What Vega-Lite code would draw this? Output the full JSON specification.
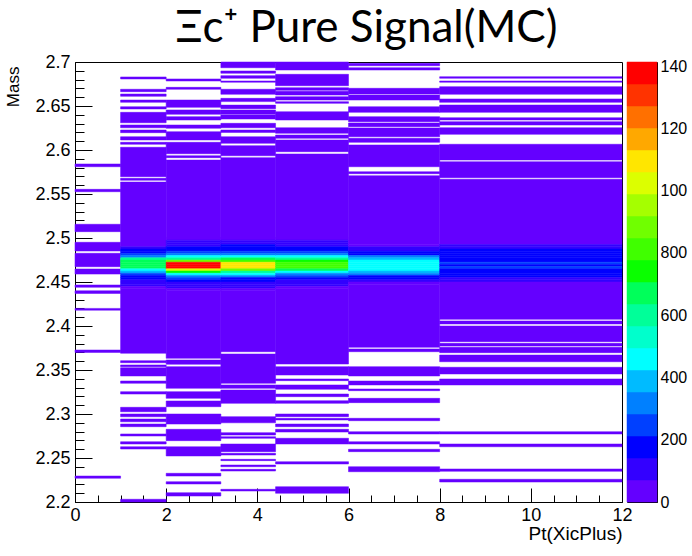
{
"$schema": "https://vega.github.io/schema/vega-lite/v6.json",
"padding": {"left": 3, "top": 6, "right": 0, "bottom": 0},
"background": "#ffffff",
"title": {"text": "Ξc⁺ Pure Signal(MC)", "font": "Lato", "fontSize": 44, "fontWeight": "normal", "color": "#000000", "anchor": "middle", "dx": 21, "offset": 2},
"config": {
  "view": {"stroke": "#000000", "strokeWidth": 1},
  "style": {"guide-label": {"ellipsis": "\u200b"}},
  "axis": {"grid": false, "domainColor": "#000000", "tickColor": "#000000", "labelColor": "#000000", "labelFont": "Liberation Sans", "titleFont": "Liberation Sans", "titleColor": "#000000", "titleFontWeight": "normal"}
},
"bounds": "flush",
"spacing": 5,
"datasets": {
"h": [
{"x":0,"x2":1,"m":2.581,"m2":2.5841,"n":15},
{"x":0,"x2":1,"m":2.5526,"m2":2.5553,"n":15},
{"x":0,"x2":1,"m":2.5072,"m2":2.5156,"n":20},
{"x":0,"x2":1,"m":2.4852,"m2":2.4951,"n":25},
{"x":0,"x2":1,"m":2.4674,"m2":2.4826,"n":30},
{"x":0,"x2":1,"m":2.459,"m2":2.4648,"n":30},
{"x":0,"x2":1,"m":2.444,"m2":2.4466,"n":20},
{"x":0,"x2":1,"m":2.437,"m2":2.44,"n":20},
{"x":0,"x2":1,"m":2.418,"m2":2.42,"n":15},
{"x":0,"x2":1,"m":2.37,"m2":2.3727,"n":15},
{"x":0,"x2":1,"m":2.227,"m2":2.2295,"n":10},

{"x":1,"x2":2,"m":2.6807,"m2":2.683,"n":10},
{"x":1,"x2":2,"m":2.6663,"m2":2.669,"n":10},
{"x":1,"x2":2,"m":2.661,"m2":2.6636,"n":10},
{"x":1,"x2":2,"m":2.6542,"m2":2.6568,"n":10},
{"x":1,"x2":2,"m":2.6466,"m2":2.6492,"n":10},
{"x":1,"x2":2,"m":2.631,"m2":2.6428,"n":15},
{"x":1,"x2":2,"m":2.6253,"m2":2.6284,"n":10},
{"x":1,"x2":2,"m":2.6197,"m2":2.6227,"n":10},
{"x":1,"x2":2,"m":2.6114,"m2":2.6151,"n":10},
{"x":1,"x2":2,"m":2.6065,"m2":2.6087,"n":10},
{"x":1,"x2":2,"m":2.5697,"m2":2.6031,"n":20},
{"x":1,"x2":2,"m":2.5656,"m2":2.5678,"n":20},
{"x":1,"x2":2,"m":2.49,"m2":2.5636,"n":35},
{"x":1,"x2":2,"m":2.4875,"m2":2.49,"n":100},
{"x":1,"x2":2,"m":2.485,"m2":2.4875,"n":170},
{"x":1,"x2":2,"m":2.4825,"m2":2.485,"n":200},
{"x":1,"x2":2,"m":2.48,"m2":2.4825,"n":260},
{"x":1,"x2":2,"m":2.4775,"m2":2.48,"n":340},
{"x":1,"x2":2,"m":2.475,"m2":2.4775,"n":600},
{"x":1,"x2":2,"m":2.4725,"m2":2.475,"n":680},
{"x":1,"x2":2,"m":2.47,"m2":2.4725,"n":700},
{"x":1,"x2":2,"m":2.4675,"m2":2.47,"n":690},
{"x":1,"x2":2,"m":2.465,"m2":2.4675,"n":660},
{"x":1,"x2":2,"m":2.4625,"m2":2.465,"n":460},
{"x":1,"x2":2,"m":2.46,"m2":2.4625,"n":380},
{"x":1,"x2":2,"m":2.4575,"m2":2.46,"n":250},
{"x":1,"x2":2,"m":2.455,"m2":2.4575,"n":190},
{"x":1,"x2":2,"m":2.4525,"m2":2.455,"n":160},
{"x":1,"x2":2,"m":2.45,"m2":2.4525,"n":120},
{"x":1,"x2":2,"m":2.4475,"m2":2.45,"n":90},
{"x":1,"x2":2,"m":2.445,"m2":2.4475,"n":75},
{"x":1,"x2":2,"m":2.4425,"m2":2.445,"n":55},
{"x":1,"x2":2,"m":2.369,"m2":2.4425,"n":35},
{"x":1,"x2":2,"m":2.3583,"m2":2.3606,"n":10},
{"x":1,"x2":2,"m":2.3538,"m2":2.3557,"n":10},
{"x":1,"x2":2,"m":2.3432,"m2":2.3526,"n":15},
{"x":1,"x2":2,"m":2.3349,"m2":2.3375,"n":10},
{"x":1,"x2":2,"m":2.3227,"m2":2.3254,"n":10},
{"x":1,"x2":2,"m":2.3026,"m2":2.3076,"n":10},
{"x":1,"x2":2,"m":2.2969,"m2":2.3,"n":10},
{"x":1,"x2":2,"m":2.2912,"m2":2.2943,"n":10},
{"x":1,"x2":2,"m":2.2856,"m2":2.2886,"n":10},
{"x":1,"x2":2,"m":2.275,"m2":2.2773,"n":10},
{"x":1,"x2":2,"m":2.2659,"m2":2.2685,"n":10},
{"x":1,"x2":2,"m":2.2602,"m2":2.2628,"n":10},
{"x":1,"x2":2,"m":2.2,"m2":2.2031,"n":10},

{"x":2,"x2":3.2,"m":2.6784,"m2":2.6807,"n":10},
{"x":2,"x2":3.2,"m":2.669,"m2":2.6712,"n":10},
{"x":2,"x2":3.2,"m":2.6485,"m2":2.6568,"n":15},
{"x":2,"x2":3.2,"m":2.6406,"m2":2.6455,"n":15},
{"x":2,"x2":3.2,"m":2.6341,"m2":2.6379,"n":15},
{"x":2,"x2":3.2,"m":2.6247,"m2":2.6284,"n":15},
{"x":2,"x2":3.2,"m":2.6114,"m2":2.6208,"n":15},
{"x":2,"x2":3.2,"m":2.5958,"m2":2.6087,"n":20},
{"x":2,"x2":3.2,"m":2.5913,"m2":2.5935,"n":20},
{"x":2,"x2":3.2,"m":2.5,"m2":2.5886,"n":35},
{"x":2,"x2":3.2,"m":2.4975,"m2":2.5,"n":60},
{"x":2,"x2":3.2,"m":2.495,"m2":2.4975,"n":80},
{"x":2,"x2":3.2,"m":2.4925,"m2":2.495,"n":100},
{"x":2,"x2":3.2,"m":2.49,"m2":2.4925,"n":120},
{"x":2,"x2":3.2,"m":2.4875,"m2":2.49,"n":160},
{"x":2,"x2":3.2,"m":2.485,"m2":2.4875,"n":180},
{"x":2,"x2":3.2,"m":2.4825,"m2":2.485,"n":240},
{"x":2,"x2":3.2,"m":2.48,"m2":2.4825,"n":320},
{"x":2,"x2":3.2,"m":2.4775,"m2":2.48,"n":450},
{"x":2,"x2":3.2,"m":2.475,"m2":2.4775,"n":600},
{"x":2,"x2":3.2,"m":2.4725,"m2":2.475,"n":880},
{"x":2,"x2":3.2,"m":2.47,"m2":2.4725,"n":1380},
{"x":2,"x2":3.2,"m":2.4675,"m2":2.47,"n":1400},
{"x":2,"x2":3.2,"m":2.465,"m2":2.4675,"n":1370},
{"x":2,"x2":3.2,"m":2.4625,"m2":2.465,"n":1050},
{"x":2,"x2":3.2,"m":2.46,"m2":2.4625,"n":750},
{"x":2,"x2":3.2,"m":2.4575,"m2":2.46,"n":470},
{"x":2,"x2":3.2,"m":2.455,"m2":2.4575,"n":320},
{"x":2,"x2":3.2,"m":2.4525,"m2":2.455,"n":220},
{"x":2,"x2":3.2,"m":2.45,"m2":2.4525,"n":170},
{"x":2,"x2":3.2,"m":2.4475,"m2":2.45,"n":120},
{"x":2,"x2":3.2,"m":2.445,"m2":2.4475,"n":100},
{"x":2,"x2":3.2,"m":2.4425,"m2":2.445,"n":80},
{"x":2,"x2":3.2,"m":2.44,"m2":2.4425,"n":60},
{"x":2,"x2":3.2,"m":2.3633,"m2":2.44,"n":35},
{"x":2,"x2":3.2,"m":2.3565,"m2":2.3614,"n":15},
{"x":2,"x2":3.2,"m":2.3292,"m2":2.3538,"n":15},
{"x":2,"x2":3.2,"m":2.3178,"m2":2.3254,"n":15},
{"x":2,"x2":3.2,"m":2.3083,"m2":2.3148,"n":15},
{"x":2,"x2":3.2,"m":2.2886,"m2":2.3,"n":15},
{"x":2,"x2":3.2,"m":2.2697,"m2":2.2826,"n":15},
{"x":2,"x2":3.2,"m":2.2523,"m2":2.2628,"n":15},
{"x":2,"x2":3.2,"m":2.2295,"m2":2.2326,"n":10},
{"x":2,"x2":3.2,"m":2.2205,"m2":2.2231,"n":10},
{"x":2,"x2":3.2,"m":2.2068,"m2":2.2106,"n":10},

{"x":3.2,"x2":4.4,"m":2.6935,"m2":2.7,"n":15},
{"x":3.2,"x2":4.4,"m":2.6872,"m2":2.6898,"n":10},
{"x":3.2,"x2":4.4,"m":2.6815,"m2":2.6845,"n":10},
{"x":3.2,"x2":4.4,"m":2.677,"m2":2.6784,"n":10},
{"x":3.2,"x2":4.4,"m":2.6633,"m2":2.669,"n":15},
{"x":3.2,"x2":4.4,"m":2.655,"m2":2.6587,"n":15},
{"x":3.2,"x2":4.4,"m":2.647,"m2":2.651,"n":15},
{"x":3.2,"x2":4.4,"m":2.6406,"m2":2.6455,"n":15},
{"x":3.2,"x2":4.4,"m":2.6352,"m2":2.6398,"n":15},
{"x":3.2,"x2":4.4,"m":2.6253,"m2":2.6303,"n":15},
{"x":3.2,"x2":4.4,"m":2.62,"m2":2.6227,"n":15},
{"x":3.2,"x2":4.4,"m":2.6076,"m2":2.6151,"n":15},
{"x":3.2,"x2":4.4,"m":2.5935,"m2":2.6049,"n":20},
{"x":3.2,"x2":4.4,"m":2.5,"m2":2.5913,"n":35},
{"x":3.2,"x2":4.4,"m":2.4975,"m2":2.5,"n":70},
{"x":3.2,"x2":4.4,"m":2.495,"m2":2.4975,"n":90},
{"x":3.2,"x2":4.4,"m":2.4925,"m2":2.495,"n":110},
{"x":3.2,"x2":4.4,"m":2.49,"m2":2.4925,"n":150},
{"x":3.2,"x2":4.4,"m":2.4875,"m2":2.49,"n":170},
{"x":3.2,"x2":4.4,"m":2.485,"m2":2.4875,"n":200},
{"x":3.2,"x2":4.4,"m":2.4825,"m2":2.485,"n":260},
{"x":3.2,"x2":4.4,"m":2.48,"m2":2.4825,"n":340},
{"x":3.2,"x2":4.4,"m":2.4775,"m2":2.48,"n":450},
{"x":3.2,"x2":4.4,"m":2.475,"m2":2.4775,"n":650},
{"x":3.2,"x2":4.4,"m":2.4725,"m2":2.475,"n":800},
{"x":3.2,"x2":4.4,"m":2.47,"m2":2.4725,"n":1100},
{"x":3.2,"x2":4.4,"m":2.4675,"m2":2.47,"n":1110},
{"x":3.2,"x2":4.4,"m":2.465,"m2":2.4675,"n":1090},
{"x":3.2,"x2":4.4,"m":2.4625,"m2":2.465,"n":850},
{"x":3.2,"x2":4.4,"m":2.46,"m2":2.4625,"n":600},
{"x":3.2,"x2":4.4,"m":2.4575,"m2":2.46,"n":430},
{"x":3.2,"x2":4.4,"m":2.455,"m2":2.4575,"n":300},
{"x":3.2,"x2":4.4,"m":2.4525,"m2":2.455,"n":210},
{"x":3.2,"x2":4.4,"m":2.45,"m2":2.4525,"n":160},
{"x":3.2,"x2":4.4,"m":2.4475,"m2":2.45,"n":120},
{"x":3.2,"x2":4.4,"m":2.445,"m2":2.4475,"n":100},
{"x":3.2,"x2":4.4,"m":2.4425,"m2":2.445,"n":75},
{"x":3.2,"x2":4.4,"m":2.44,"m2":2.4425,"n":55},
{"x":3.2,"x2":4.4,"m":2.3708,"m2":2.44,"n":35},
{"x":3.2,"x2":4.4,"m":2.3349,"m2":2.3682,"n":20},
{"x":3.2,"x2":4.4,"m":2.3292,"m2":2.333,"n":15},
{"x":3.2,"x2":4.4,"m":2.3121,"m2":2.3273,"n":15},
{"x":3.2,"x2":4.4,"m":2.29,"m2":2.297,"n":15},
{"x":3.2,"x2":4.4,"m":2.2761,"m2":2.2788,"n":10},
{"x":3.2,"x2":4.4,"m":2.2724,"m2":2.2742,"n":10},
{"x":3.2,"x2":4.4,"m":2.2572,"m2":2.2659,"n":15},
{"x":3.2,"x2":4.4,"m":2.2534,"m2":2.2553,"n":10},
{"x":3.2,"x2":4.4,"m":2.247,"m2":2.2485,"n":10},
{"x":3.2,"x2":4.4,"m":2.2401,"m2":2.242,"n":10},
{"x":3.2,"x2":4.4,"m":2.2352,"m2":2.2371,"n":10},
{"x":3.2,"x2":4.4,"m":2.2125,"m2":2.2144,"n":10},

{"x":4.4,"x2":6,"m":2.6909,"m2":2.7,"n":15},
{"x":4.4,"x2":6,"m":2.6731,"m2":2.686,"n":15},
{"x":4.4,"x2":6,"m":2.6678,"m2":2.6708,"n":15},
{"x":4.4,"x2":6,"m":2.6625,"m2":2.6667,"n":15},
{"x":4.4,"x2":6,"m":2.6568,"m2":2.6606,"n":15},
{"x":4.4,"x2":6,"m":2.653,"m2":2.6549,"n":15},
{"x":4.4,"x2":6,"m":2.6341,"m2":2.6435,"n":15},
{"x":4.4,"x2":6,"m":2.619,"m2":2.6253,"n":15},
{"x":4.4,"x2":6,"m":2.6133,"m2":2.617,"n":15},
{"x":4.4,"x2":6,"m":2.5981,"m2":2.6114,"n":20},
{"x":4.4,"x2":6,"m":2.5,"m2":2.5955,"n":35},
{"x":4.4,"x2":6,"m":2.4975,"m2":2.5,"n":65},
{"x":4.4,"x2":6,"m":2.495,"m2":2.4975,"n":85},
{"x":4.4,"x2":6,"m":2.4925,"m2":2.495,"n":100},
{"x":4.4,"x2":6,"m":2.49,"m2":2.4925,"n":130},
{"x":4.4,"x2":6,"m":2.4875,"m2":2.49,"n":160},
{"x":4.4,"x2":6,"m":2.485,"m2":2.4875,"n":190},
{"x":4.4,"x2":6,"m":2.4825,"m2":2.485,"n":250},
{"x":4.4,"x2":6,"m":2.48,"m2":2.4825,"n":330},
{"x":4.4,"x2":6,"m":2.4775,"m2":2.48,"n":440},
{"x":4.4,"x2":6,"m":2.475,"m2":2.4775,"n":580},
{"x":4.4,"x2":6,"m":2.4725,"m2":2.475,"n":720},
{"x":4.4,"x2":6,"m":2.47,"m2":2.4725,"n":820},
{"x":4.4,"x2":6,"m":2.4675,"m2":2.47,"n":830},
{"x":4.4,"x2":6,"m":2.465,"m2":2.4675,"n":810},
{"x":4.4,"x2":6,"m":2.4625,"m2":2.465,"n":680},
{"x":4.4,"x2":6,"m":2.46,"m2":2.4625,"n":470},
{"x":4.4,"x2":6,"m":2.4575,"m2":2.46,"n":330},
{"x":4.4,"x2":6,"m":2.455,"m2":2.4575,"n":240},
{"x":4.4,"x2":6,"m":2.4525,"m2":2.455,"n":180},
{"x":4.4,"x2":6,"m":2.45,"m2":2.4525,"n":140},
{"x":4.4,"x2":6,"m":2.4475,"m2":2.45,"n":110},
{"x":4.4,"x2":6,"m":2.445,"m2":2.4475,"n":85},
{"x":4.4,"x2":6,"m":2.4425,"m2":2.445,"n":65},
{"x":4.4,"x2":6,"m":2.3568,"m2":2.4425,"n":35},
{"x":4.4,"x2":6,"m":2.3443,"m2":2.3538,"n":15},
{"x":4.4,"x2":6,"m":2.3379,"m2":2.3398,"n":10},
{"x":4.4,"x2":6,"m":2.3281,"m2":2.333,"n":10},
{"x":4.4,"x2":6,"m":2.3197,"m2":2.3227,"n":10},
{"x":4.4,"x2":6,"m":2.3121,"m2":2.3151,"n":10},
{"x":4.4,"x2":6,"m":2.297,"m2":2.3,"n":10},
{"x":4.4,"x2":6,"m":2.2932,"m2":2.2951,"n":10},
{"x":4.4,"x2":6,"m":2.2856,"m2":2.2886,"n":10},
{"x":4.4,"x2":6,"m":2.2795,"m2":2.2826,"n":10},
{"x":4.4,"x2":6,"m":2.2659,"m2":2.2724,"n":10},
{"x":4.4,"x2":6,"m":2.2432,"m2":2.2458,"n":10},
{"x":4.4,"x2":6,"m":2.2099,"m2":2.2174,"n":10},

{"x":6,"x2":8,"m":2.6958,"m2":2.6985,"n":10},
{"x":6,"x2":8,"m":2.6909,"m2":2.6935,"n":10},
{"x":6,"x2":8,"m":2.6636,"m2":2.6701,"n":15},
{"x":6,"x2":8,"m":2.6568,"m2":2.6625,"n":15},
{"x":6,"x2":8,"m":2.6428,"m2":2.6492,"n":15},
{"x":6,"x2":8,"m":2.6322,"m2":2.6379,"n":15},
{"x":6,"x2":8,"m":2.6265,"m2":2.6307,"n":15},
{"x":6,"x2":8,"m":2.6151,"m2":2.625,"n":15},
{"x":6,"x2":8,"m":2.6087,"m2":2.6133,"n":15},
{"x":6,"x2":8,"m":2.581,"m2":2.6057,"n":20},
{"x":6,"x2":8,"m":2.5731,"m2":2.5753,"n":20},
{"x":6,"x2":8,"m":2.4925,"m2":2.5708,"n":35},
{"x":6,"x2":8,"m":2.49,"m2":2.4925,"n":60},
{"x":6,"x2":8,"m":2.4875,"m2":2.49,"n":100},
{"x":6,"x2":8,"m":2.485,"m2":2.4875,"n":130},
{"x":6,"x2":8,"m":2.4825,"m2":2.485,"n":180},
{"x":6,"x2":8,"m":2.48,"m2":2.4825,"n":200},
{"x":6,"x2":8,"m":2.4775,"m2":2.48,"n":320},
{"x":6,"x2":8,"m":2.475,"m2":2.4775,"n":400},
{"x":6,"x2":8,"m":2.4725,"m2":2.475,"n":450},
{"x":6,"x2":8,"m":2.47,"m2":2.4725,"n":470},
{"x":6,"x2":8,"m":2.4675,"m2":2.47,"n":480},
{"x":6,"x2":8,"m":2.465,"m2":2.4675,"n":470},
{"x":6,"x2":8,"m":2.4625,"m2":2.465,"n":440},
{"x":6,"x2":8,"m":2.46,"m2":2.4625,"n":380},
{"x":6,"x2":8,"m":2.4575,"m2":2.46,"n":320},
{"x":6,"x2":8,"m":2.455,"m2":2.4575,"n":200},
{"x":6,"x2":8,"m":2.4525,"m2":2.455,"n":170},
{"x":6,"x2":8,"m":2.45,"m2":2.4525,"n":110},
{"x":6,"x2":8,"m":2.4475,"m2":2.45,"n":60},
{"x":6,"x2":8,"m":2.3758,"m2":2.4475,"n":35},
{"x":6,"x2":8,"m":2.3708,"m2":2.3739,"n":10},
{"x":6,"x2":8,"m":2.3432,"m2":2.3538,"n":15},
{"x":6,"x2":8,"m":2.333,"m2":2.3375,"n":10},
{"x":6,"x2":8,"m":2.3265,"m2":2.3284,"n":10},
{"x":6,"x2":8,"m":2.3129,"m2":2.3178,"n":10},
{"x":6,"x2":8,"m":2.2924,"m2":2.2951,"n":10},
{"x":6,"x2":8,"m":2.2773,"m2":2.2799,"n":10},
{"x":6,"x2":8,"m":2.2659,"m2":2.2685,"n":10},
{"x":6,"x2":8,"m":2.2572,"m2":2.2599,"n":10},
{"x":6,"x2":8,"m":2.2344,"m2":2.2401,"n":10},

{"x":8,"x2":12,"m":2.6815,"m2":2.6833,"n":10},
{"x":8,"x2":12,"m":2.677,"m2":2.6784,"n":10},
{"x":8,"x2":12,"m":2.6633,"m2":2.672,"n":15},
{"x":8,"x2":12,"m":2.6542,"m2":2.658,"n":15},
{"x":8,"x2":12,"m":2.6428,"m2":2.6511,"n":15},
{"x":8,"x2":12,"m":2.6341,"m2":2.6367,"n":15},
{"x":8,"x2":12,"m":2.6284,"m2":2.6322,"n":15},
{"x":8,"x2":12,"m":2.6178,"m2":2.6253,"n":15},
{"x":8,"x2":12,"m":2.5886,"m2":2.6065,"n":20},
{"x":8,"x2":12,"m":2.5685,"m2":2.5867,"n":20},
{"x":8,"x2":12,"m":2.4925,"m2":2.5667,"n":35},
{"x":8,"x2":12,"m":2.49,"m2":2.4925,"n":80},
{"x":8,"x2":12,"m":2.4875,"m2":2.49,"n":120},
{"x":8,"x2":12,"m":2.485,"m2":2.4875,"n":160},
{"x":8,"x2":12,"m":2.4825,"m2":2.485,"n":180},
{"x":8,"x2":12,"m":2.48,"m2":2.4825,"n":190},
{"x":8,"x2":12,"m":2.4775,"m2":2.48,"n":200},
{"x":8,"x2":12,"m":2.475,"m2":2.4775,"n":190},
{"x":8,"x2":12,"m":2.4725,"m2":2.475,"n":200},
{"x":8,"x2":12,"m":2.47,"m2":2.4725,"n":230},
{"x":8,"x2":12,"m":2.4675,"m2":2.47,"n":200},
{"x":8,"x2":12,"m":2.465,"m2":2.4675,"n":230},
{"x":8,"x2":12,"m":2.4625,"m2":2.465,"n":190},
{"x":8,"x2":12,"m":2.46,"m2":2.4625,"n":180},
{"x":8,"x2":12,"m":2.4575,"m2":2.46,"n":170},
{"x":8,"x2":12,"m":2.455,"m2":2.4575,"n":150},
{"x":8,"x2":12,"m":2.4525,"m2":2.455,"n":120},
{"x":8,"x2":12,"m":2.45,"m2":2.4525,"n":90},
{"x":8,"x2":12,"m":2.4076,"m2":2.45,"n":35},
{"x":8,"x2":12,"m":2.4023,"m2":2.4057,"n":15},
{"x":8,"x2":12,"m":2.3822,"m2":2.4,"n":20},
{"x":8,"x2":12,"m":2.3773,"m2":2.3803,"n":15},
{"x":8,"x2":12,"m":2.3697,"m2":2.3758,"n":15},
{"x":8,"x2":12,"m":2.3594,"m2":2.367,"n":15},
{"x":8,"x2":12,"m":2.3455,"m2":2.3531,"n":15},
{"x":8,"x2":12,"m":2.333,"m2":2.3398,"n":15},
{"x":8,"x2":12,"m":2.2773,"m2":2.2799,"n":10},
{"x":8,"x2":12,"m":2.2628,"m2":2.2659,"n":10},
{"x":8,"x2":12,"m":2.2349,"m2":2.2375,"n":10},
{"x":8,"x2":12,"m":2.2227,"m2":2.2258,"n":10}
],
"pal": [
{"lo":0,"hi":70.65,"v":35},{"lo":70.65,"hi":141.3,"v":106},{"lo":141.3,"hi":211.95,"v":177},{"lo":211.95,"hi":282.6,"v":247},{"lo":282.6,"hi":353.25,"v":318},
{"lo":353.25,"hi":423.9,"v":389},{"lo":423.9,"hi":494.55,"v":459},{"lo":494.55,"hi":565.2,"v":530},{"lo":565.2,"hi":635.85,"v":600},{"lo":635.85,"hi":706.5,"v":671},
{"lo":706.5,"hi":777.15,"v":742},{"lo":777.15,"hi":847.8,"v":812},{"lo":847.8,"hi":918.45,"v":883},{"lo":918.45,"hi":989.1,"v":954},{"lo":989.1,"hi":1059.75,"v":1024},
{"lo":1059.75,"hi":1130.4,"v":1095},{"lo":1130.4,"hi":1201.05,"v":1166},{"lo":1201.05,"hi":1271.7,"v":1236},{"lo":1271.7,"hi":1342.35,"v":1307},{"lo":1342.35,"hi":1413,"v":1378}
]
},
"hconcat": [
{
  "width": 547, "height": 440,
  "data": {"name": "h"},
  "mark": {"type": "rect", "strokeWidth": 0.5},
  "encoding": {
    "x": {"field": "x", "type": "quantitative", "scale": {"domain": [0, 12], "nice": false, "zero": false},
      "axis": {"values": [0,0.5,1,1.5,2,2.5,3,3.5,4,4.5,5,5.5,6,6.5,7,7.5,8,8.5,9,9.5,10,10.5,11,11.5,12],
        "tickSize": {"condition": {"test": "datum.value % 2 === 0", "value": -14}, "value": -7},
        "labelExpr": "datum.value % 2 === 0 ? format(datum.value, '~g') : ''",
        "labelPadding": 18, "labelFontSize": 18, "labelFlush": false, "labelOverlap": false,
        "title": "Pt(XicPlus)", "titleFontSize": 19, "titleAnchor": "end", "titleBaseline": "top", "titleY": 22}},
    "x2": {"field": "x2"},
    "y": {"field": "m", "type": "quantitative", "scale": {"domain": [2.2, 2.7], "nice": false, "zero": false},
      "axis": {"values": [2.2,2.21,2.22,2.23,2.24,2.25,2.26,2.27,2.28,2.29,2.3,2.31,2.32,2.33,2.34,2.35,2.36,2.37,2.38,2.39,2.4,2.41,2.42,2.43,2.44,2.45,2.46,2.47,2.48,2.49,2.5,2.51,2.52,2.53,2.54,2.55,2.56,2.57,2.58,2.59,2.6,2.61,2.62,2.63,2.64,2.65,2.66,2.67,2.68,2.69,2.7],
        "tickSize": {"condition": {"test": "abs(datum.value*20 - round(datum.value*20)) < 0.001", "value": -17}, "value": -9},
        "labelExpr": "abs(datum.value*20 - round(datum.value*20)) < 0.001 ? format(datum.value, '~g') : ''",
        "labelPadding": 22, "labelFontSize": 18, "labelFlush": false, "labelOverlap": false,
        "title": "Mass", "titleFontSize": 17, "titleAnchor": "end", "titleAngle": 270, "titleBaseline": "middle", "titleX": -62, "titleY": 4}},
    "y2": {"field": "m2"},
    "color": {"field": "n", "type": "quantitative", "legend": null,
      "scale": {"type": "quantize", "domain": [0, 1413], "nice": false,
        "range": ["#6400ff","#3300ff","#0000ff","#0040ff","#0080ff","#00bbff","#00ffff","#00ffcc","#00ff99","#00ff5a","#0aff00","#40ff00","#70ff00","#a5ff00","#dcff00","#ffe600","#ffa800","#ff7000","#ff3300","#ff0000"]}},
    "stroke": {"field": "n", "type": "quantitative", "legend": null,
      "scale": {"type": "quantize", "domain": [0, 1413], "nice": false,
        "range": ["#6400ff","#3300ff","#0000ff","#0040ff","#0080ff","#00bbff","#00ffff","#00ffcc","#00ff99","#00ff5a","#0aff00","#40ff00","#70ff00","#a5ff00","#dcff00","#ffe600","#ffa800","#ff7000","#ff3300","#ff0000"]}}
  }
},
{
  "width": 30, "height": 440,
  "data": {"name": "pal"},
  "mark": {"type": "rect", "strokeWidth": 0.5},
  "encoding": {
    "y": {"field": "lo", "type": "quantitative", "scale": {"domain": [0, 1413], "nice": false, "zero": false},
      "axis": {"orient": "right", "values": [0,200,400,600,800,1000,1200,1400], "format": "d", "tickSize": -17, "labelPadding": 20, "labelFontSize": 16, "labelLimit": 34, "labelFlush": false, "labelOverlap": false, "title": null, "domain": false}},
    "y2": {"field": "hi"},
    "color": {"field": "v", "type": "quantitative", "legend": null,
      "scale": {"type": "quantize", "domain": [0, 1413], "nice": false,
        "range": ["#6400ff","#3300ff","#0000ff","#0040ff","#0080ff","#00bbff","#00ffff","#00ffcc","#00ff99","#00ff5a","#0aff00","#40ff00","#70ff00","#a5ff00","#dcff00","#ffe600","#ffa800","#ff7000","#ff3300","#ff0000"]}},
    "stroke": {"field": "v", "type": "quantitative", "legend": null,
      "scale": {"type": "quantize", "domain": [0, 1413], "nice": false,
        "range": ["#6400ff","#3300ff","#0000ff","#0040ff","#0080ff","#00bbff","#00ffff","#00ffcc","#00ff99","#00ff5a","#0aff00","#40ff00","#70ff00","#a5ff00","#dcff00","#ffe600","#ffa800","#ff7000","#ff3300","#ff0000"]}}
  }
}
]
}
